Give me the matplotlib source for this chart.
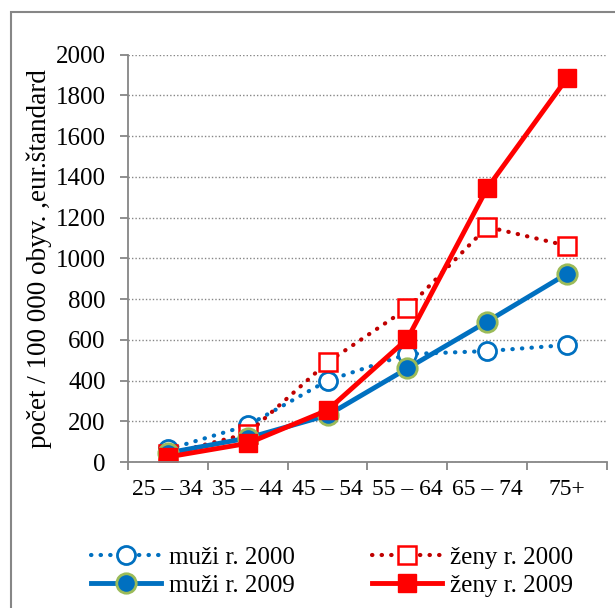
import matplotlib.pyplot as plt
import matplotlib.patches as patches

# age groups and rates per 100 000
groups = ['25 – 34', '35 – 44', '45 – 54', '55 – 64', '65 – 74', '75+']
muzi_2000 = [62, 180, 400, 530, 545, 575]
muzi_2009 = [45, 118, 230, 460, 690, 925]
zeny_2000 = [38, 140, 490, 755, 1155, 1062]
zeny_2009 = [25, 92, 255, 605, 1345, 1885]

plt.rcParams['font.family'] = ['Liberation Serif', 'DejaVu Serif']
plt.rcParams['font.size'] = 18

fig = plt.figure(figsize=(6.15, 6.08), dpi=100)
ax = fig.add_axes([0.208, 0.240, 0.779, 0.670])

x = list(range(len(groups)))
gray = '#868686'

l1, = ax.plot(x, muzi_2000, color='#0070C0', lw=3, ls=(0, (0.1, 2.2)),
              dash_capstyle='round', marker='o', ms=13, mfc='white',
              mec='#0070C0', mew=2, label='muži r. 2000')
l3, = ax.plot(x, zeny_2000, color='#C00000', lw=3, ls=(0, (0.1, 2.2)),
              dash_capstyle='round', marker='s', ms=13, mfc='white',
              mec='#FF0000', mew=1.8, label='ženy r. 2000')
l2, = ax.plot(x, muzi_2009, color='#0070C0', lw=3.5, marker='o', ms=14,
              mfc='#0070C0', mec='#9BBB59', mew=2, label='muži r. 2009')
l4, = ax.plot(x, zeny_2009, color='#FF0000', lw=3.5, marker='s', ms=13,
              mfc='#FF0000', mec='#FF0000', label='ženy r. 2009')

ax.set_xlim(-0.5, len(groups) - 0.5)
ax.set_ylim(0, 2000)
ax.set_yticks(range(0, 2001, 200))
ax.set_xticks(x)
ax.set_xticklabels(groups, fontsize=17)
ax.set_xticks([i - 0.5 for i in range(len(groups) + 1)], minor=True)
ax.tick_params(axis='x', which='major', length=0, pad=12)
ax.tick_params(axis='x', which='minor', length=6, color=gray, width=1.3)
ax.tick_params(axis='y', length=6, color=gray, width=1.3, pad=10)
ax.grid(axis='y', color=gray, ls=(0, (1, 1.5)), lw=1)
ax.set_axisbelow(True)
for s in ['top', 'right']:
    ax.spines[s].set_visible(False)
for s in ['left', 'bottom']:
    ax.spines[s].set_color(gray)
    ax.spines[s].set_linewidth(1.3)

ax.set_ylabel('počet / 100 000 obyv. ,eur.štandard', fontsize=19.5, labelpad=3)

fig.legend([l1, l2, l3, l4],
           ['muži r. 2000', 'muži r. 2009', 'ženy r. 2000', 'ženy r. 2009'],
           ncol=2, loc='center', bbox_to_anchor=(0.54, 0.06), frameon=False,
           handlelength=2.8, handletextpad=0.32, columnspacing=3.1,
           labelspacing=0.2, fontsize=18)

# outer frame, cut off at right/bottom like the source
fig.patches.append(patches.Rectangle((11 / 615, -0.1), 1.2, 1 - 12 / 608 + 0.1,
                                     transform=fig.transFigure, fill=False,
                                     edgecolor=gray, lw=1.5))

fig.savefig('out.png', dpi=100)
